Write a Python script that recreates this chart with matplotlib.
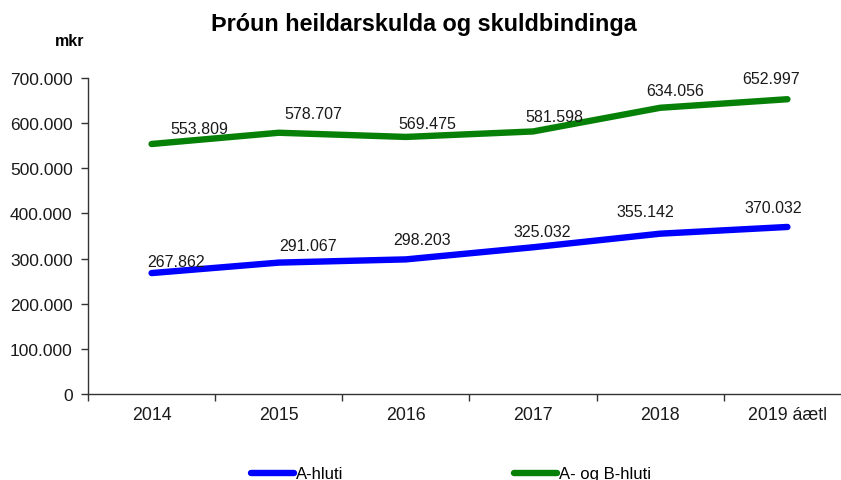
import matplotlib
matplotlib.use("Agg")
import matplotlib.pyplot as plt
from matplotlib.ticker import FixedLocator, FuncFormatter

plt.rcParams['font.family'] = ['Liberation Sans', 'DejaVu Sans']

categories = ["2014", "2015", "2016", "2017", "2018", "2019 áætl"]
a_hluti = [267862, 291067, 298203, 325032, 355142, 370032]
ab_hluti = [553809, 578707, 569475, 581598, 634056, 652997]
series_names = ["A-hluti", "A- og B-hluti"]
title = "Þróun heildarskulda og skuldbindinga"
unit = "mkr"
y_ticks = [0, 100000, 200000, 300000, 400000, 500000, 600000, 700000]

# label offsets (pixels) - style only
a_offsets = [(24, 12), (29, 17), (16, 20), (9, 16), (-15, 22), (-14, 19)]
ab_offsets = [(48, 15), (35, 19), (21, 13), (21, 15), (15, 17), (-16, 21)]

W, H = 841, 481
fig = plt.figure(figsize=(W / 100, H / 100), dpi=100)
ax = fig.add_axes([88 / W, (H - 395) / H, (851 - 88) / W, 316 / H])

x = list(range(len(categories)))
blue = "#0000ff"
green = "#078007"
l1, = ax.plot(x, a_hluti, color=blue, lw=4.6, solid_capstyle='round', solid_joinstyle='round', label=series_names[0])
l2, = ax.plot(x, ab_hluti, color=green, lw=4.6, solid_capstyle='round', solid_joinstyle='round', label=series_names[1])

def fmt(v):
    return f"{v:,.0f}".replace(",", ".")

for xi, v, off in zip(x, a_hluti, a_offsets):
    ax.annotate(fmt(v), (xi, v), xytext=off, textcoords='offset pixels',
                ha='center', va='center', fontsize=11.5, color='#1a1a1a')
for xi, v, off in zip(x, ab_hluti, ab_offsets):
    ax.annotate(fmt(v), (xi, v), xytext=off, textcoords='offset pixels',
                ha='center', va='center', fontsize=11.5, color='#1a1a1a')

ax.set_xlim(-0.5, len(categories) - 0.5)
ax.set_ylim(0, 700000)
ax.yaxis.set_major_locator(FixedLocator(y_ticks))
ax.yaxis.set_major_formatter(FuncFormatter(lambda v, p: fmt(v)))
ax.set_xticks(x)
ax.set_xticklabels(categories)
ax.set_xticks([i - 0.5 for i in range(len(categories) + 1)], minor=True)
ax.tick_params(axis='x', which='major', length=0, pad=9, labelsize=12.8, labelcolor='#1a1a1a')
ax.tick_params(axis='x', which='minor', length=5, width=1, color='#333333', direction='out')
ax.tick_params(axis='y', which='major', length=5, width=1, color='#333333', direction='out', labelsize=12.5, labelcolor='#1a1a1a', pad=6)
for s in ['top', 'right']:
    ax.spines[s].set_visible(False)
for s in ['left', 'bottom']:
    ax.spines[s].set_color('#333333')
    ax.spines[s].set_linewidth(1)

fig.text(424 / W, 1 - 25 / H, title, ha='center', va='center', fontsize=16.8, fontweight='bold')
fig.text(70 / W, 1 - 42 / H, unit, ha='center', va='center', fontsize=11.5, fontweight='bold')

fig.legend(handles=[l1, l2], loc='center left', bbox_to_anchor=(251 / W, 6 / H), ncol=2,
           frameon=False, fontsize=12, handlelength=2.6, handletextpad=0.12,
           columnspacing=10.2, borderpad=0, borderaxespad=0)

fig.savefig("out.png", dpi=100)
